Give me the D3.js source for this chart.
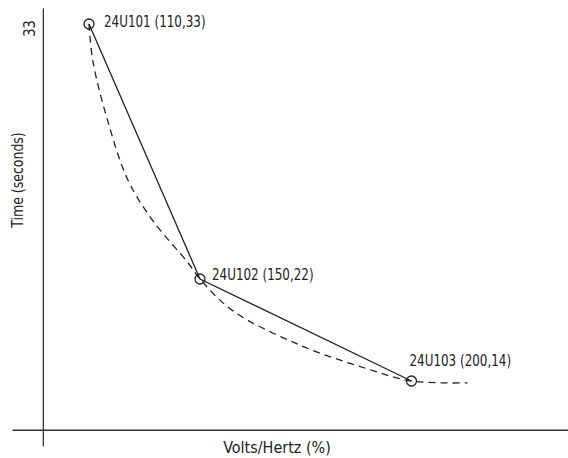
<!DOCTYPE html>
<html>
<head>
<meta charset="utf-8">
<script src="https://cdn.jsdelivr.net/npm/d3@7"></script>
<style>
  html, body { margin: 0; padding: 0; background: #fff; }
  svg { display: block; }
  text { font-family: "DejaVu Sans Condensed", "DejaVu Sans", sans-serif; fill: #222; }
</style>
</head>
<body>
<svg id="chart" width="568" height="458"></svg>
<script>
// ---- data ----
const categories = ["24U101", "24U102", "24U103"];
const voltsHertz = [110, 150, 200];
const timeSeconds = [33, 22, 14];
// dashed (inverse-time) reference curve
const curveVoltsHertz = [110, 111.4, 116.8, 124.1, 133.1, 145.7, 150, 157.8, 173.7, 189.6, 200, 213.3];
const curveTime = [33, 31.4, 28.8, 26.25, 24.5, 22.7, 22, 19.5, 16.8, 14.95, 14, 13.85];
const yTickValues = [33];
const xAxisTitle = "Volts/Hertz (%)";
const yAxisTitle = "Time (seconds)";
// axis extents / crossing (data units)
const xExtent = [82.3, 237.2];
const yExtent = [33.7, 8.8];
const axisCross = { x: 93.4, y: 10.1 };

// ---- scales (schematic, piecewise linear) ----
const svg = d3.select("#chart");
const x = d3.scaleLinear()
  .domain([xExtent[0], ...voltsHertz, xExtent[1]])
  .range([12, 89, 200, 411.5, 568]);
const y = d3.scaleLinear()
  .domain([yExtent[0], ...timeSeconds, yExtent[1]])
  .range([8, 24, 279, 381, 446]);

const ink = "#222";

// ---- axes ----
const gx = svg.append("g")
  .attr("transform", `translate(0,${y(axisCross.y)})`)
  .call(d3.axisBottom(x).tickValues([]).tickSizeOuter(0));
gx.select(".domain").attr("stroke", "#333").attr("stroke-width", 1.3);

const gy = svg.append("g")
  .attr("transform", `translate(${x(axisCross.x)},0)`)
  .call(d3.axisLeft(y).tickValues(yTickValues).tickSize(0).tickSizeOuter(0));
gy.attr("font-family", null);
gy.select(".domain").attr("stroke", "#333").attr("stroke-width", 1.3);
gy.selectAll(".tick text")
  .attr("x", null).attr("dy", null)
  .attr("transform", "translate(-8,4) rotate(-90) scale(0.9,1)")
  .attr("text-anchor", "middle")
  .attr("font-size", 16)
  .attr("fill", ink);

svg.append("text")
  .attr("transform", "translate(277,453) scale(1,1)")
  .attr("text-anchor", "middle")
  .attr("font-size", 16)
  .text(xAxisTitle);

svg.append("text")
  .attr("transform", "translate(23,180) rotate(-90) scale(0.87,1)")
  .attr("text-anchor", "middle")
  .attr("font-size", 16)
  .text(yAxisTitle);

// ---- dashed curve ----
const curvePts = curveVoltsHertz.map((v, i) => [v, curveTime[i]]);
svg.append("path")
  .datum(curvePts)
  .attr("fill", "none")
  .attr("stroke", ink)
  .attr("stroke-width", 1.3)
  .attr("stroke-dasharray", "7,5")
  .attr("d", d3.line().x(d => x(d[0])).y(d => y(d[1])).curve(d3.curveCatmullRom.alpha(0.5)));

// ---- solid line ----
const pts = voltsHertz.map((v, i) => [v, timeSeconds[i]]);
svg.append("path")
  .datum(pts)
  .attr("fill", "none")
  .attr("stroke", ink)
  .attr("stroke-width", 1.3)
  .attr("d", d3.line().x(d => x(d[0])).y(d => y(d[1])));

// ---- markers ----
svg.selectAll("circle.pt")
  .data(pts)
  .join("circle")
  .attr("class", "pt")
  .attr("cx", d => x(d[0]))
  .attr("cy", d => y(d[1]))
  .attr("r", 5)
  .attr("fill", "none")
  .attr("stroke", ink)
  .attr("stroke-width", 1.3);

// ---- labels ----
const labelOffsets = [[15, 3], [12, 1], [-2, -15]];
svg.selectAll("text.pl")
  .data(pts)
  .join("text")
  .attr("class", "pl")
  .attr("transform", (d, i) =>
    `translate(${x(d[0]) + labelOffsets[i][0]},${y(d[1]) + labelOffsets[i][1]}) scale(0.83,1)`)
  .attr("font-size", 16)
  .text((d, i) => `${categories[i]} (${d[0]},${d[1]})`);
</script>
</body>
</html>
